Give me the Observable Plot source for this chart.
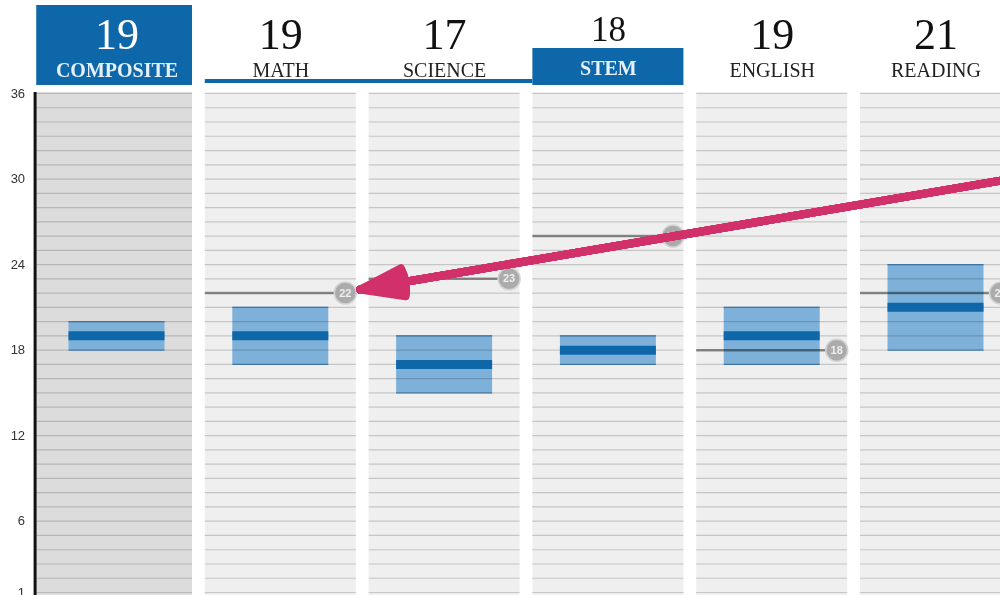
<!DOCTYPE html>
<html><head><meta charset="utf-8">
<script src="https://cdn.jsdelivr.net/npm/d3@7"></script>
<script src="https://cdn.jsdelivr.net/npm/@observablehq/plot@0.6"></script>
<style>
html,body{margin:0;padding:0;background:#fff;overflow:hidden;}
#chart{width:1000px;height:595px;overflow:hidden;}
</style>
</head><body><div id="chart"></div>
<script>
// ---- data ----
const categories = ["COMPOSITE", "MATH", "SCIENCE", "STEM", "ENGLISH", "READING"];
const scores     = [19, 19, 17, 18, 19, 21];
const rangeLow   = [18, 17, 15, 17, 17, 18];
const rangeHigh  = [20, 21, 19, 19, 21, 24];
const benchmarks = [null, 22, 23, 26, 18, 22];
const yTicks     = [1, 6, 12, 18, 24, 30, 36];
const arrowNote  = [{x1: 5.45, y1: 30.0, x2: 1.485, y2: 22.25}];

// ---- layout ----
const W = 1000, H = 595;
const Y_TOP = 93, Y_BOT = 592, FRAME_TOP = 92;
const X0 = 34.6, STEP = 163.8;
const HALF = 0.461, BAR_HALF = 0.293;
const yk = (Y_BOT - Y_TOP) / 35;
const yAt = px => 36 + (Y_TOP - px) / yk;   // pixel row -> y value (for header furniture)

const rows = categories.map((c, i) => ({cat: c, i, score: scores[i], lo: rangeLow[i], hi: rangeHigh[i], bench: benchmarks[i]}));
const panelLeft = d => d.i === 0 ? -0.49 : d.i - HALF;
const panelRight = d => d.i + HALF;
const levels = d3.range(1, 37);
const grid = rows.flatMap(r => levels.map(v => ({...r, v})));
const benchRows = rows.filter(r => r.bench != null);
const isBox = d => d.cat === "COMPOSITE";
const isTag = d => d.cat === "STEM";

const BLUE = "#0e67a8";
const ARROW = "#d2306a";
const headAngles = [0, 6, 12, 18, 24, 30, 36];

const chart = Plot.plot({
  width: W, height: H,
  marginTop: FRAME_TOP, marginBottom: 0, marginLeft: X0, marginRight: 0,
  style: {fontFamily: "Liberation Sans", background: "transparent", overflow: "hidden"},
  x: {domain: [-0.5, 5.5], range: [X0, X0 + 6 * STEP], axis: null},
  y: {domain: [1, 36], range: [Y_BOT, Y_TOP], axis: null},
  marks: [
    // panel backgrounds
    Plot.rect(rows.filter(isBox), {x1: panelLeft, x2: panelRight, y1: yAt(FRAME_TOP), y2: yAt(H), fill: "#dcdcdc"}),
    Plot.rect(rows.filter(d => !isBox(d)), {x1: panelLeft, x2: panelRight, y1: yAt(FRAME_TOP), y2: yAt(H), fill: "#efefef"}),
    // score range boxes
    Plot.rect(rows, {x1: d => d.i - BAR_HALF, x2: d => d.i + BAR_HALF, y1: "lo", y2: "hi", fill: "#7db1da"}),
    // gridlines
    Plot.ruleY(grid, {y: "v", x1: panelLeft, x2: panelRight, stroke: "#d4d4d4", strokeWidth: 1.2, mixBlendMode: "multiply"}),
    // box edges
    Plot.ruleY(rows, {y: "lo", x1: d => d.i - BAR_HALF, x2: d => d.i + BAR_HALF, stroke: "#3f74a0", strokeWidth: 1.2}),
    Plot.ruleY(rows, {y: "hi", x1: d => d.i - BAR_HALF, x2: d => d.i + BAR_HALF, stroke: "#3f74a0", strokeWidth: 1.2}),
    // benchmark lines
    Plot.ruleY(benchRows, {y: "bench", x1: panelLeft, x2: panelRight, insetRight: 11, stroke: "#9a9a9a", strokeWidth: 2.5, mixBlendMode: "multiply"}),
    // score lines
    Plot.ruleY(rows, {y: "score", x1: d => d.i - BAR_HALF, x2: d => d.i + BAR_HALF, stroke: BLUE, strokeWidth: 9}),
    // benchmark bubbles
    Plot.dot(benchRows, {x: panelRight, y: "bench", dx: -11, r: 11, fill: "#ababab", stroke: "#d4d4d4", strokeWidth: 1.5}),
    Plot.text(benchRows, {x: panelRight, y: "bench", dx: -11, text: d => String(d.bench), fill: "#eeeeee", fontSize: 11, fontWeight: "bold"}),
    // y axis line
    Plot.ruleX([-0.5], {y1: yAt(FRAME_TOP), y2: yAt(H), stroke: "#111", strokeWidth: 3}),
    Plot.axisY(yTicks, {anchor: "left", tickSize: 0, tickPadding: 10, fontSize: 13, color: "#333", label: null}),
    // header furniture
    Plot.rect(rows.filter(isBox), {x1: panelLeft, x2: panelRight, y1: yAt(85), y2: yAt(5), fill: BLUE}),
    Plot.rect(rows.filter(isTag), {x1: d => d.i - HALF, x2: panelRight, y1: yAt(85), y2: yAt(48), fill: BLUE}),
    Plot.rect(rows.filter(d => d.cat === "MATH"), {x1: d => d.i - HALF, x2: d => d.i + 2 - HALF, y1: yAt(83), y2: yAt(79), fill: BLUE}),
    // header numbers
    Plot.text(rows.filter(isBox), {x: "i", text: d => String(d.score), frameAnchor: "top", lineAnchor: "bottom", dy: -44, fontSize: 44, fontFamily: "Liberation Serif", fill: "#ffffff"}),
    Plot.text(rows.filter(d => !isBox(d) && !isTag(d)), {x: "i", text: d => String(d.score), frameAnchor: "top", lineAnchor: "bottom", dy: -44, fontSize: 44, fontFamily: "Liberation Serif", fill: "#111"}),
    Plot.text(rows.filter(isTag), {x: "i", text: d => String(d.score), frameAnchor: "top", lineAnchor: "bottom", dy: -52, fontSize: 35, fontFamily: "Liberation Serif", fill: "#111"}),
    // header labels
    Plot.text(rows.filter(isBox), {x: "i", text: "cat", frameAnchor: "top", lineAnchor: "bottom", dy: -16, fontSize: 20, fontWeight: "bold", fontFamily: "Liberation Serif", fill: "#e4f0fa"}),
    Plot.text(rows.filter(isTag), {x: "i", text: "cat", frameAnchor: "top", lineAnchor: "bottom", dy: -18, fontSize: 20, fontWeight: "bold", fontFamily: "Liberation Serif", fill: "#e4f0fa"}),
    Plot.text(rows.filter(d => !isBox(d) && !isTag(d)), {x: "i", text: "cat", frameAnchor: "top", lineAnchor: "bottom", dy: -16, fontSize: 20, fontFamily: "Liberation Serif", fill: "#222"}),
    // annotation arrow (layered to fill the head)
    ...headAngles.map(a => Plot.arrow(arrowNote, {x1: "x1", y1: "y1", x2: "x2", y2: "y2", stroke: ARROW, strokeWidth: 8, headLength: 8.6, headAngle: a}))
  ]
});
document.getElementById("chart").appendChild(chart);
</script>
</body></html>
